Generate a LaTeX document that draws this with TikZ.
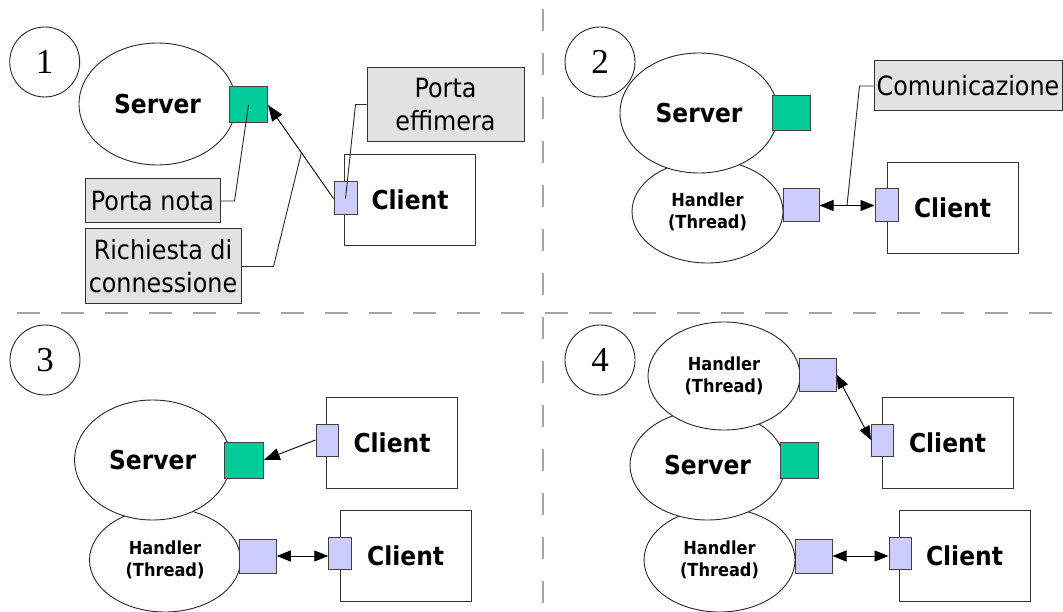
\documentclass[tikz,border=0pt]{standalone}
\usepackage{fontspec}
\setmainfont{DejaVu Sans}[FakeStretch=0.9]
\newfontfamily\numfont{Liberation Serif}
\usetikzlibrary{arrows.meta,calc,shapes.geometric}
\definecolor{portgreen}{RGB}{0,204,153}
\definecolor{portblue}{RGB}{204,204,255}
\definecolor{lblgray}{RGB}{226,226,226}
\definecolor{dashgray}{RGB}{165,165,165}
\tikzset{
 ell/.style={ellipse, draw=black!85, line width=0.9pt, fill=white, inner sep=0pt},
 numc/.style={circle, draw=black!85, line width=0.9pt, minimum size=70pt, inner sep=0pt, font=\numfont\fontsize{35}{35}\selectfont},
 greenport/.style={rectangle, draw=black!75, line width=1pt, fill=portgreen, inner sep=0pt},
 blueport/.style={rectangle, draw=black!75, line width=1pt, fill=portblue, inner sep=0pt},
 clientbox/.style={rectangle, draw=black!80, line width=1pt, fill=white, minimum width=131pt, minimum height=91pt, inner sep=0pt, font=\bfseries\fontsize{26}{26}\selectfont},
 lbl/.style={rectangle, draw=black!80, line width=1pt, fill=lblgray, inner sep=0pt, align=center, font=\fontsize{26.5}{33}\selectfont},
 srvtext/.style={font=\bfseries\fontsize{26}{26}\selectfont},
 hndtext/.style={font=\bfseries\fontsize{18}{22}\selectfont, align=center},
 callout/.style={draw=black!85, line width=0.9pt},
 arr/.style={draw=black, line width=0.9pt, -{Triangle[length=16pt,width=12pt]}},
 darr/.style={draw=black, line width=0.9pt, {Triangle[length=14pt,width=11pt]}-{Triangle[length=14pt,width=11pt]}},
 sep/.style={draw=dashgray, line width=1.3pt, dash pattern=on 22pt off 22pt},
}
\begin{document}
\begin{tikzpicture}[x=1pt,y=-1pt]
\useasboundingbox (0,0) rectangle (1063,612);
% separators
\coordinate (vtop) at (543,9);
\coordinate (vbot) at (543,612);
\coordinate (hl) at (17,313);
\coordinate (hr) at (1063,313);
\draw[sep] (vtop) -- (vbot);
\draw[sep, dash pattern=on 23pt off 21pt] (hl) -- (hr);

% ---------- Panel 1 ----------
\node[numc] (n1) at (44.7,62) {1};
\node[ell, minimum width=157pt, minimum height=122pt, srvtext] (s1) at (157.5,104) {Server};
\node[greenport, minimum width=38pt, minimum height=36pt] (g1) at (248.5,105) {};
\node[clientbox] (c1) at (410,200) {Client};
\node[blueport, minimum width=23pt, minimum height=33pt] (p1) at (345.5,198.5) {};
\node[lbl, minimum width=157pt, minimum height=74pt] (le1) at (445.5,104.5) {Porta\\effimera};
\node[lbl, minimum width=135pt, minimum height=44pt] (ln1) at (152.5,201) {Porta nota};
\node[lbl, minimum width=156pt, minimum height=75pt] (lr1) at (163,266.5) {Richiesta di\\connessione};
\draw[arr] (p1.west) -- (g1.east);
\coordinate (mid1) at ($(p1.west)!0.49!(g1.east)$);
\draw[callout] (ln1.east) -- ++(14,0) -- (g1.center);
\draw[callout] (lr1.east) -- ++(32,0) -- (mid1);
\draw[callout] (le1.west) -- ++(-11,0) -- (p1.center);

% ---------- Panel 2 ----------
\node[numc] (n2) at (600,62) {2};
\node[ell, minimum width=151pt, minimum height=103pt, hndtext] (h2) at (707.5,211.5) {Handler\\(Thread)};
\node[ell, minimum width=158pt, minimum height=120pt, srvtext] (s2) at (699,113) {Server};
\node[greenport, minimum width=38pt, minimum height=35pt] (g2) at (791,113.5) {};
\node[blueport, minimum width=36pt, minimum height=33pt] (hp2) at (801,205.5) {};
\node[clientbox] (c2) at (952.5,208) {Client};
\node[blueport, minimum width=23pt, minimum height=33pt] (cp2) at (886.5,205.5) {};
\node[lbl, minimum width=188pt, minimum height=50pt] (lc2) at (968,86) {Comunicazione};
\draw[darr] (hp2.east) -- (cp2.west);
\coordinate (mid2) at ($(hp2.east)!0.5!(cp2.west)$);
\draw[callout] (lc2.west) -- ++(-14,0) -- (mid2);

% ---------- Panel 3 ----------
\node[numc] (n3) at (45,360) {3};
\node[ell, minimum width=151pt, minimum height=104pt, hndtext] (h3) at (165,560) {Handler\\(Thread)};
\node[ell, minimum width=156pt, minimum height=120pt, srvtext] (s3) at (152.6,460) {Server};
\node[greenport, minimum width=39pt, minimum height=36pt] (g3) at (243.8,460) {};
\node[clientbox] (c3a) at (392,442.5) {Client};
\node[blueport, minimum width=22pt, minimum height=32pt] (cp3a) at (327,440) {};
\draw[arr] (cp3a.west) -- (g3.east);
\node[blueport, minimum width=36.5pt, minimum height=34pt] (hp3) at (258,556) {};
\node[clientbox] (c3b) at (405.7,555.5) {Client};
\node[blueport, minimum width=23pt, minimum height=32pt] (cp3b) at (340.3,553) {};
\draw[darr] (hp3.east) -- (hp3.east -| cp3b.west);

% ---------- Panel 4 ----------
\node[numc] (n4) at (600,360) {4};
\node[ell, minimum width=151pt, minimum height=104pt, hndtext] (h4b) at (719.5,560) {Handler\\(Thread)};
\node[ell, minimum width=155pt, minimum height=110pt, srvtext] (s4) at (707.5,465) {Server};
\node[ell, minimum width=152pt, minimum height=108pt, hndtext] (h4t) at (724,376) {Handler\\(Thread)};
\node[blueport, minimum width=37pt, minimum height=33pt] (hp4t) at (817.5,374.5) {};
\node[greenport, minimum width=38pt, minimum height=36pt] (g4) at (799,460) {};
\node[clientbox] (c4a) at (947.5,442.5) {Client};
\node[blueport, minimum width=22pt, minimum height=32pt] (cp4a) at (882.5,440) {};
\draw[darr] (hp4t.east) -- (cp4a.west);
\node[blueport, minimum width=37pt, minimum height=34pt] (hp4b) at (813.5,556) {};
\node[clientbox] (c4b) at (964.5,555.5) {Client};
\node[blueport, minimum width=22pt, minimum height=32pt] (cp4b) at (900,553) {};
\draw[darr] (hp4b.east) -- (hp4b.east -| cp4b.west);
\end{tikzpicture}
\end{document}
